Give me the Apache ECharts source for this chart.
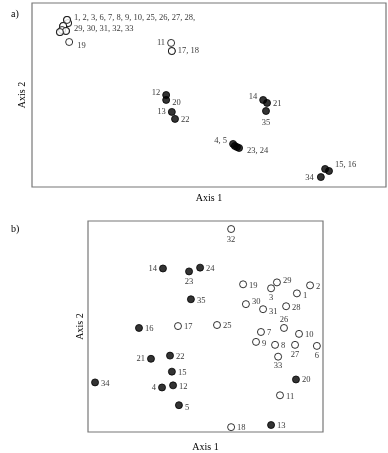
<!DOCTYPE html>
<html>
<head>
<meta charset="utf-8">
<script src="https://cdn.jsdelivr.net/npm/echarts@6/dist/echarts.min.js"></script>
<style>
  html, body { margin: 0; padding: 0; background: #fff; }
  #chart { width: 388px; height: 453px; }
</style>
</head>
<body>
<div id="chart"></div>
<script>
// ordination scores, panel a
var aIds = ['1', '2', '3', '6', '7', '8', '9', '10', '25', '26', '27', '28', '29', '30', '31', '32', '33',
            '19', '11', '17', '18', '12', '20', '13', '22', '14', '21', '35', '4', '5', '23', '24', '15', '16', '34'];
var aX = [9.9, 10.2, 8.8, 8.5, 9.6, 7.9, 9.9, 10.2, 8.8, 8.5, 9.6, 7.9, 9.9, 8.8, 8.5, 9.6, 7.9,
          10.5, 39.3, 39.5, 39.5, 37.9, 37.9, 39.5, 40.4, 65.3, 66.4, 66.1, 56.8, 57.3, 57.9, 58.5, 82.8, 83.9, 81.6];
var aY = [90.8, 89.1, 87.5, 85.3, 84.8, 84.2, 90.8, 89.1, 87.5, 85.3, 84.8, 84.2, 90.8, 87.5, 85.3, 84.8, 84.2,
          78.8, 78.3, 73.9, 73.9, 50.0, 47.3, 40.8, 37.0, 47.3, 45.7, 41.3, 23.4, 22.3, 21.7, 21.2, 9.8, 8.7, 5.4];

// ordination scores, panel b
var bIds = ['32', '24', '23', '14', '35', '19', '29', '3', '2', '1', '30', '31', '28', '17', '25', '16', '26', '7',
            '10', '9', '8', '27', '6', '33', '21', '22', '15', '34', '4', '12', '20', '11', '5', '18', '13'];
var bX = [60.9, 47.7, 43.0, 31.9, 43.8, 66.0, 80.4, 77.9, 94.5, 88.9, 67.2, 74.5, 84.3, 38.3, 54.9, 21.7, 83.4, 73.6,
          89.8, 71.5, 79.6, 88.1, 97.4, 80.9, 26.8, 34.9, 35.7, 3.0, 31.5, 36.2, 88.5, 81.7, 38.7, 60.9, 77.9];
var bY = [96.2, 77.9, 76.1, 77.5, 62.9, 70.0, 70.9, 68.1, 69.5, 65.7, 60.6, 58.2, 59.6, 50.2, 50.7, 49.3, 49.3, 47.4,
          46.5, 42.7, 41.3, 41.3, 40.8, 35.7, 34.7, 36.2, 28.6, 23.5, 21.1, 22.1, 24.9, 17.4, 12.7, 2.3, 3.3];

// sites drawn as open circles
var openIds = ['1', '2', '3', '6', '7', '8', '9', '10', '11', '17', '18', '19',
               '25', '26', '27', '28', '29', '30', '31', '32', '33'];

var font = 'Liberation Serif, Times New Roman, serif';

// label settings for panel a (grouped labels on one point of each cluster)
var aLabels = {
    '1': { text: '1, 2, 3, 6, 7, 8, 9, 10, 25, 26, 27, 28,\n29, 30, 31, 32, 33', position: 'right', offset: [1, 3] },
    '19': { text: '19', position: 'right', offset: [2, 4] },
    '11': { text: '11', position: 'left', offset: [0, 0] },
    '18': { text: '17, 18', position: 'right', offset: [0, 0] },
    '12': { text: '12', position: 'left', offset: [0, -2] },
    '20': { text: '20', position: 'right', offset: [0, 3] },
    '13': { text: '13', position: 'left', offset: [0, 0] },
    '22': { text: '22', position: 'right', offset: [0, 1] },
    '14': { text: '14', position: 'left', offset: [0, -3] },
    '21': { text: '21', position: 'right', offset: [0, 1] },
    '35': { text: '35', position: 'bottom', offset: [0, 0] },
    '4': { text: '4, 5', position: 'left', offset: [0, -3] },
    '24': { text: '23, 24', position: 'right', offset: [2, 3] },
    '16': { text: '15, 16', position: 'right', offset: [0, -6] },
    '34': { text: '34', position: 'left', offset: [-1, 1] }
};

// label positions for panel b (default: right)
var bLabels = {
    '32': { position: 'bottom', offset: [0, 0] },
    '23': { position: 'bottom', offset: [0, 0] },
    '14': { position: 'left', offset: [0, 0] },
    '3': { position: 'bottom', offset: [0, -1] },
    '26': { position: 'top', offset: [0, 2] },
    '27': { position: 'bottom', offset: [0, -1] },
    '6': { position: 'bottom', offset: [0, -1] },
    '33': { position: 'bottom', offset: [0, -1] },
    '21': { position: 'left', offset: [0, 0] },
    '4': { position: 'left', offset: [0, 0] },
    '1': { position: 'right', offset: [0, 2] },
    '31': { position: 'right', offset: [0, 3] },
    '28': { position: 'right', offset: [0, 2] },
    '9': { position: 'right', offset: [0, 2] },
    '5': { position: 'right', offset: [0, 3] },
    '29': { position: 'right', offset: [0, -2] },
    '30': { position: 'right', offset: [0, -2] },
    '20': { position: 'right', offset: [0, 0] }
};

function makeData(ids, xs, ys, labels, groupOnly) {
    return ids.map(function (id, i) {
        var isOpen = openIds.indexOf(id) >= 0;
        var lab = labels[id];
        var showLab = groupOnly ? !!lab : true;
        return {
            value: [xs[i], ys[i]],
            name: id,
            itemStyle: isOpen
                ? { color: '#fff', borderColor: '#000', borderWidth: 1 }
                : { color: '#000', borderColor: '#000', borderWidth: 1 },
            label: {
                show: showLab,
                formatter: lab && lab.text ? lab.text : id,
                position: lab ? lab.position : 'right',
                offset: lab ? lab.offset : [0, 1],
                distance: 2
            }
        };
    });
}

function axis(gridIndex, name, gap) {
    var isY = name === 'Axis 2';
    return {
        type: 'value',
        gridIndex: gridIndex,
        min: 0,
        max: 100,
        name: name,
        nameLocation: 'middle',
        nameGap: gap,
        nameRotate: isY ? 90 : 0,
        nameTextStyle: { fontFamily: font, fontSize: 10, color: '#000' },
        axisLine: { show: false },
        axisTick: { show: false },
        axisLabel: { show: false },
        splitLine: { show: false }
    };
}

var myChart = echarts.init(document.getElementById('chart'));
var option = {};

option = {
    backgroundColor: '#fff',
    animation: false,
    title: [
        { text: 'a)', left: 6, top: 4, textStyle: { fontFamily: font, fontSize: 10, fontWeight: 'normal', color: '#000' } },
        { text: 'b)', left: 6, top: 219, textStyle: { fontFamily: font, fontSize: 10, fontWeight: 'normal', color: '#000' } }
    ],
    grid: [
        { left: 32, top: 3, width: 354, height: 184, show: true, borderColor: '#777', borderWidth: 1.2, backgroundColor: '#fff' },
        { left: 88, top: 221, width: 235, height: 213, show: true, borderColor: '#777', borderWidth: 1.2, backgroundColor: '#fff' }
    ],
    xAxis: [axis(0, 'Axis 1', 6), axis(1, 'Axis 1', 10)],
    yAxis: [axis(0, 'Axis 2', 5), axis(1, 'Axis 2', 3)],
    series: [
        {
            type: 'scatter',
            xAxisIndex: 0,
            yAxisIndex: 0,
            symbolSize: 7,
            label: { fontFamily: font, fontSize: 8.5, color: '#000', lineHeight: 11 },
            emphasis: { disabled: true },
            data: makeData(aIds, aX, aY, aLabels, true)
        },
        {
            type: 'scatter',
            xAxisIndex: 1,
            yAxisIndex: 1,
            symbolSize: 7,
            label: { fontFamily: font, fontSize: 8.5, color: '#000' },
            emphasis: { disabled: true },
            data: makeData(bIds, bX, bY, bLabels, false)
        }
    ]
};

myChart.setOption(option);
</script>
</body>
</html>
